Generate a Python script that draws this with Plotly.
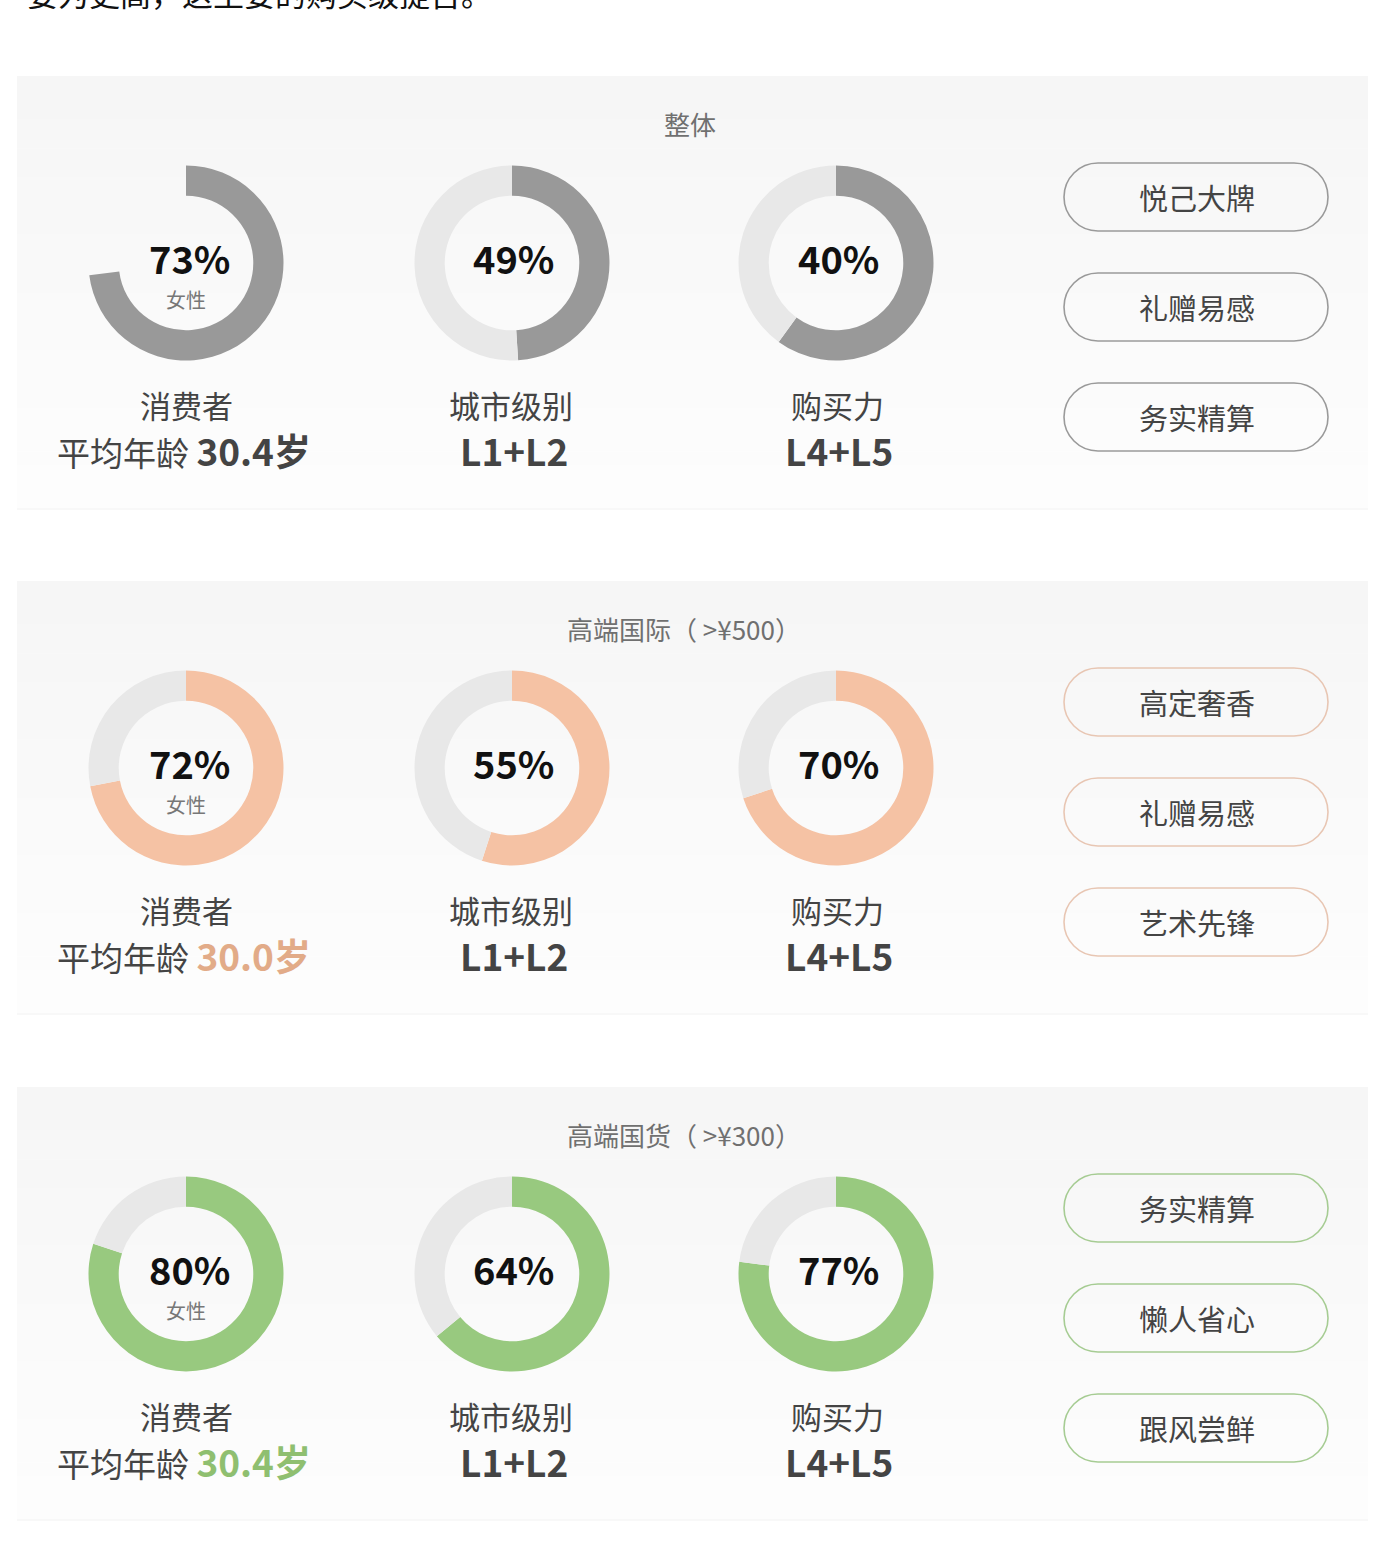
import plotly.graph_objects as go

W, H = 1381, 1541

# ---------------- data ----------------
section_titles = ["整体", "高端国际（ >¥500）", "高端国货（ >¥300）"]
gender_ring = [73, 72, 80]          # arc share drawn for 女性
city_ring = [49, 55, 64]            # arc share drawn for 城市级别
power_ring = [60, 70, 77]           # arc share drawn for 购买力
gender_label = ["73%", "72%", "80%"]
city_label = ["49%", "55%", "64%"]
power_label = ["40%", "70%", "77%"]
avg_age = ["30.4岁", "30.0岁", "30.4岁"]
city_level = ["L1+L2", "L1+L2", "L1+L2"]
power_level = ["L4+L5", "L4+L5", "L4+L5"]
tags = [["悦己大牌", "礼赠易感", "务实精算"],
        ["高定奢香", "礼赠易感", "艺术先锋"],
        ["务实精算", "懒人省心", "跟风尝鲜"]]
intro_text = "要为更高，这主要的购买级提否。"

# ---------------- styles ----------------
arc_colors = ["#999999", "#f5c2a4", "#98c97f"]
age_colors = ["#444444", "#e2ab88", "#8fbf70"]
pill_colors = ["#9a9a9a", "#e8c6b3", "#a6cc93"]
track = "#e8e8e8"
card_tops = [76, 581, 1087]
card_h = 433
card_x0, card_x1 = 17, 1368
col_x = [186, 512, 836]
R = 97.5
FONT = "Noto Sans CJK SC, Microsoft YaHei, sans-serif"

fig = go.Figure()
shapes = []
annotations = []


def hexmix(a, b, t):
    a = [int(a[i:i + 2], 16) for i in (1, 3, 5)]
    b = [int(b[i:i + 2], 16) for i in (1, 3, 5)]
    c = [round(a[i] + (b[i] - a[i]) * t) for i in range(3)]
    return "#%02x%02x%02x" % tuple(c)


def pill_path(x0, x1, y0, y1):
    r = (y1 - y0) / 2
    k = 0.5523 * r
    cy = (y0 + y1) / 2
    return (f"M {x0 + r},{y0} L {x1 - r},{y0} "
            f"C {x1 - r + k},{y0} {x1},{cy - k} {x1},{cy} "
            f"C {x1},{cy + k} {x1 - r + k},{y1} {x1 - r},{y1} "
            f"L {x0 + r},{y1} "
            f"C {x0 + r - k},{y1} {x0},{cy + k} {x0},{cy} "
            f"C {x0},{cy - k} {x0 + r - k},{y0} {x0 + r},{y0} Z")


def add_donut(cx, cy, value, color, rem_color):
    fig.add_trace(go.Pie(
        values=[value, 100 - value],
        marker=dict(colors=[color, rem_color], line=dict(width=0)),
        hole=0.69, sort=False, direction="clockwise", rotation=0,
        textinfo="none", hoverinfo="skip", showlegend=False,
        domain=dict(x=[(cx - R) / W, (cx + R) / W],
                    y=[1 - (cy + R) / H, 1 - (cy - R) / H]),
    ))


def text(x, y, s, size, color="#444444", bold=False):
    if bold:
        s = f"<b>{s}</b>"
    annotations.append(dict(x=x, y=y, xref="x", yref="y", text=s,
                            showarrow=False, xanchor="center", yanchor="middle",
                            font=dict(size=size, color=color, family=FONT)))


# intro line (cut off at the top of the page)
annotations.append(dict(x=25 / W, y=1 + 7 / H, xref="paper", yref="paper", text=intro_text,
                        showarrow=False, xanchor="left", yanchor="middle",
                        font=dict(size=31, color="#111111", family=FONT)))

for i, top in enumerate(card_tops):
    # card background gradient
    n = 30
    for k in range(n):
        y0 = top + card_h * k / n
        y1 = top + card_h * (k + 1) / n + 0.6
        shapes.append(dict(type="rect", xref="x", yref="y", x0=card_x0, x1=card_x1,
                           y0=y0, y1=y1, line=dict(width=0), layer="below",
                           fillcolor=hexmix("#f6f6f6", "#fdfdfd", k / (n - 1))))
    shapes.append(dict(type="line", xref="x", yref="y", x0=card_x0, x1=card_x1,
                       y0=top + card_h, y1=top + card_h, layer="below",
                       line=dict(color="#f2f2f2", width=1)))

    cy = top + 187
    color = arc_colors[i]
    add_donut(col_x[0], cy, gender_ring[i], color, "rgba(0,0,0,0)" if i == 0 else track)
    add_donut(col_x[1], cy, city_ring[i], color, track)
    add_donut(col_x[2], cy, power_ring[i], color, track)

    text(690 if i == 0 else 684, top + 47, section_titles[i], 26, "#707070")

    text(col_x[0] + 3, top + 181, gender_label[i], 38, "#111111", bold=True)
    text(col_x[0], top + 223, "女性", 20, "#777777")
    text(col_x[1] + 1, top + 181, city_label[i], 38, "#111111", bold=True)
    text(col_x[2] + 2, top + 181, power_label[i], 38, "#111111", bold=True)

    text(col_x[0], top + 328, "消费者", 31, "#444444")
    text(col_x[0] - 2, top + 374,
         f"平均年龄 <b><span style='color:{age_colors[i]};font-size:37px'>{avg_age[i]}</span></b>",
         33, "#444444")
    text(col_x[1] - 1, top + 328, "城市级别", 31, "#444444")
    text(col_x[1] + 2, top + 374, city_level[i], 37, "#444444", bold=True)
    text(col_x[2] + 1, top + 328, "购买力", 31, "#444444")
    text(col_x[2] + 3, top + 374, power_level[i], 37, "#444444", bold=True)

    for j, tag in enumerate(tags[i]):
        pcy = top + 121 + j * 110
        shapes.append(dict(type="path", xref="x", yref="y",
                           path=pill_path(1064, 1328, pcy - 34, pcy + 34),
                           line=dict(color=pill_colors[i], width=1.6),
                           fillcolor="rgba(0,0,0,0)", layer="above"))
        text(1197, pcy, tag, 29, "#444444")

fig.update_layout(
    width=W, height=H,
    margin=dict(l=0, r=0, t=0, b=0),
    paper_bgcolor="white", plot_bgcolor="white",
    xaxis=dict(range=[0, W], visible=False, fixedrange=True),
    yaxis=dict(range=[H, 0], visible=False, fixedrange=True),
    shapes=shapes, annotations=annotations,
    font=dict(family=FONT),
)

fig.write_html("out.html", config={"displayModeBar": False})
